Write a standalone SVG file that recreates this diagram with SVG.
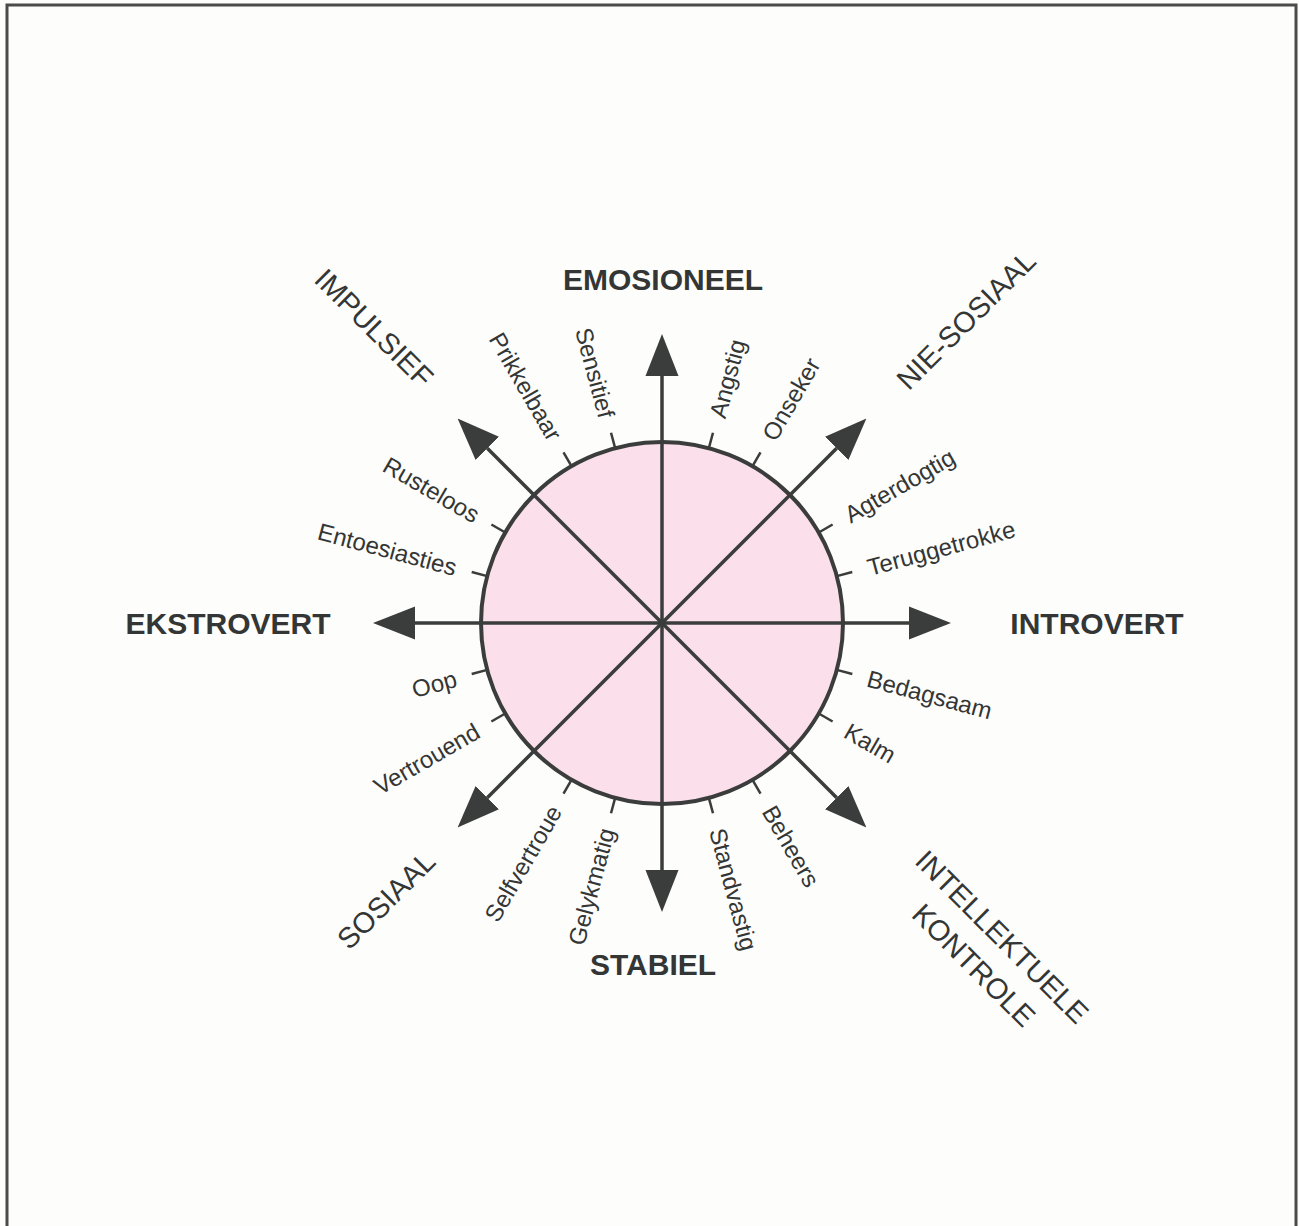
<svg xmlns="http://www.w3.org/2000/svg" width="1299" height="1226" viewBox="0 0 1299 1226">
<defs>
<style>
.bg{fill:#fdfdfb}
.frame{fill:none;stroke:#4a4c4b;stroke-width:3}
.disc{fill:#fbdfeb;stroke:#3a3d3b;stroke-width:4}
.axis{stroke:#3a3d3b;stroke-width:3.5;fill:none}
.tick{stroke:#3a3d3b;stroke-width:2.5}
.lbl{font-family:"Liberation Sans",Arial,sans-serif;font-size:24px;fill:#333635}
.big{font-family:"Liberation Sans",Arial,sans-serif;font-size:30px;font-weight:bold;fill:#333635}
.diag{font-family:"Liberation Sans",Arial,sans-serif;font-size:29px;fill:#333635}
</style>
<marker id="ah" viewBox="0 -17 42 34" refX="0" refY="0" markerWidth="42" markerHeight="34" markerUnits="userSpaceOnUse" orient="auto">
<path d="M0,-16.5 L42,0 L0,16.5 Z" fill="#3a3d3b"/>
</marker>
</defs>
<rect class="bg" x="0" y="0" width="1299" height="1226"/>
<rect class="frame" x="7" y="5" width="1289" height="1260"/>

<g id="circle">
<circle class="disc" cx="662" cy="623" r="181"/>
</g>

<g id="connectors">
<line class="axis" x1="662" y1="623" x2="662" y2="376" marker-end="url(#ah)"/>
<line class="axis" x1="662" y1="623" x2="662" y2="870" marker-end="url(#ah)"/>
<line class="axis" x1="662" y1="623" x2="415" y2="623" marker-end="url(#ah)"/>
<line class="axis" x1="662" y1="623" x2="909" y2="623" marker-end="url(#ah)"/>
<line class="axis" x1="662" y1="623" x2="487.3" y2="448.3" marker-end="url(#ah)"/>
<line class="axis" x1="662" y1="623" x2="836.7" y2="448.3" marker-end="url(#ah)"/>
<line class="axis" x1="662" y1="623" x2="487.3" y2="797.7" marker-end="url(#ah)"/>
<line class="axis" x1="662" y1="623" x2="836.7" y2="797.7" marker-end="url(#ah)"/>
</g>

<g id="ticks" transform="translate(662 623)">
<line class="tick" x1="181" y1="0" x2="197" y2="0" transform="rotate(-15)"/>
<line class="tick" x1="181" y1="0" x2="197" y2="0" transform="rotate(-30)"/>
<line class="tick" x1="181" y1="0" x2="197" y2="0" transform="rotate(-60)"/>
<line class="tick" x1="181" y1="0" x2="197" y2="0" transform="rotate(-75)"/>
<line class="tick" x1="181" y1="0" x2="197" y2="0" transform="rotate(-105)"/>
<line class="tick" x1="181" y1="0" x2="197" y2="0" transform="rotate(-120)"/>
<line class="tick" x1="181" y1="0" x2="197" y2="0" transform="rotate(-150)"/>
<line class="tick" x1="181" y1="0" x2="197" y2="0" transform="rotate(-165)"/>
<line class="tick" x1="181" y1="0" x2="197" y2="0" transform="rotate(-195)"/>
<line class="tick" x1="181" y1="0" x2="197" y2="0" transform="rotate(-210)"/>
<line class="tick" x1="181" y1="0" x2="197" y2="0" transform="rotate(-240)"/>
<line class="tick" x1="181" y1="0" x2="197" y2="0" transform="rotate(-255)"/>
<line class="tick" x1="181" y1="0" x2="197" y2="0" transform="rotate(-285)"/>
<line class="tick" x1="181" y1="0" x2="197" y2="0" transform="rotate(-300)"/>
<line class="tick" x1="181" y1="0" x2="197" y2="0" transform="rotate(-330)"/>
<line class="tick" x1="181" y1="0" x2="197" y2="0" transform="rotate(-345)"/>
</g>

<g id="trait-labels" transform="translate(662 623)">
<text class="lbl" x="213" y="0" dy=".35em" transform="rotate(-15)">Teruggetrokke</text>
<text class="lbl" x="213" y="0" dy=".35em" transform="rotate(-30)">Agterdogtig</text>
<text class="lbl" x="213" y="0" dy=".35em" transform="rotate(-60)">Onseker</text>
<text class="lbl" x="213" y="0" dy=".35em" transform="rotate(-75)">Angstig</text>
<text class="lbl" x="-213" y="0" dy=".35em" text-anchor="end" transform="rotate(75)">Sensitief</text>
<text class="lbl" x="-213" y="0" dy=".35em" text-anchor="end" transform="rotate(60)">Prikkelbaar</text>
<text class="lbl" x="-213" y="0" dy=".35em" text-anchor="end" transform="rotate(30)">Rusteloos</text>
<text class="lbl" x="-213" y="0" dy=".35em" text-anchor="end" transform="rotate(15)">Entoesiasties</text>
<text class="lbl" x="-213" y="0" dy=".35em" text-anchor="end" transform="rotate(-15)">Oop</text>
<text class="lbl" x="-213" y="0" dy=".35em" text-anchor="end" transform="rotate(-30)">Vertrouend</text>
<text class="lbl" x="-213" y="0" dy=".35em" text-anchor="end" transform="rotate(-60)">Selfvertroue</text>
<text class="lbl" x="-213" y="0" dy=".35em" text-anchor="end" transform="rotate(-75)">Gelykmatig</text>
<text class="lbl" x="213" y="0" dy=".35em" transform="rotate(75)">Standvastig</text>
<text class="lbl" x="213" y="0" dy=".35em" transform="rotate(60)">Beheers</text>
<text class="lbl" x="213" y="0" dy=".35em" transform="rotate(30)">Kalm</text>
<text class="lbl" x="213" y="0" dy=".35em" transform="rotate(15)">Bedagsaam</text>
</g>

<g id="emosioneel"><text class="big" x="663" y="290" text-anchor="middle">EMOSIONEEL</text></g>
<g id="stabiel"><text class="big" x="653" y="975" text-anchor="middle">STABIEL</text></g>
<g id="ekstrovert"><text class="big" x="228" y="634" text-anchor="middle">EKSTROVERT</text></g>
<g id="introvert"><text class="big" x="1097" y="634" text-anchor="middle">INTROVERT</text></g>
<g id="impulsief"><text class="diag" text-anchor="middle" dy=".35em" transform="translate(374 328) rotate(45)">IMPULSIEF</text></g>
<g id="nie-sosiaal"><text class="diag" text-anchor="middle" dy=".35em" transform="translate(966 320) rotate(-45)">NIE-SOSIAAL</text></g>
<g id="sosiaal"><text class="diag" text-anchor="middle" dy=".35em" transform="translate(386 900) rotate(-45)">SOSIAAL</text></g>
<g id="intellektuele-kontrole" transform="translate(988 951) rotate(45)">
<text class="diag" text-anchor="middle" x="0" y="-20" dy=".35em">INTELLEKTUELE</text>
<text class="diag" text-anchor="middle" x="0" y="20" dy=".35em">KONTROLE</text>
</g>
</svg>
